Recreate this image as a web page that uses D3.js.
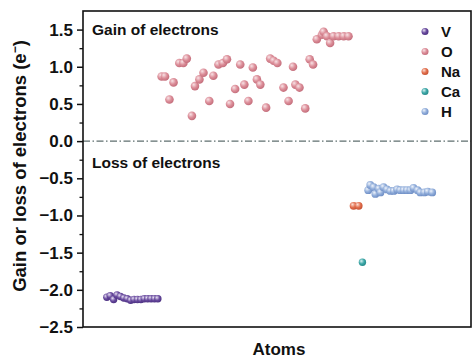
<!DOCTYPE html>
<html>
<head>
<meta charset="utf-8">
<script src="https://cdn.jsdelivr.net/npm/d3@7/dist/d3.min.js"></script>
<style>
  html, body { margin: 0; padding: 0; background: #fff; }
  svg { display: block; }
  text { font-family: "Liberation Sans", Arial, sans-serif; font-weight: bold; fill: #111; }
</style>
</head>
<body>
<svg id="chart" width="473" height="360"></svg>
<script>
// Bader charge per atom: positive = gain of electrons, negative = loss
const vIndex  = [7, 8, 9, 10, 11, 12, 13, 14, 15, 16, 17, 18, 19, 20, 21, 22];
const vCharge = [-2.10, -2.08, -2.13, -2.07, -2.09, -2.11, -2.12, -2.14, -2.13, -2.13, -2.13, -2.12, -2.12, -2.12, -2.12, -2.12];

const oIndex  = [23.1, 24.1, 25.4, 26.6, 28.3, 29.5, 30.5, 32.0, 32.9, 34.2, 35.4, 37.1, 38.3, 39.8, 41.1, 42.3,
                 43.2, 44.7, 46.2, 47.4, 48.6, 49.9, 51.1, 52.1, 53.8, 55.0, 56.0, 57.1, 58.9, 60.4, 61.7, 62.4,
                 63.6, 65.3, 66.6, 67.6, 68.7, 70.2, 70.7, 71.7, 72.6, 73.6, 75.1, 76.6, 78.0];
const oCharge = [0.87, 0.87, 0.56, 0.79, 1.05, 1.05, 1.11, 0.34, 0.74, 0.83, 0.92, 0.54, 0.88, 1.03, 1.05, 1.10,
                 0.50, 0.70, 1.03, 0.76, 0.54, 0.99, 0.83, 0.76, 0.45, 1.11, 1.08, 1.05, 0.72, 0.54, 1.00, 0.76,
                 0.72, 0.44, 1.10, 1.03, 1.37, 1.43, 1.47, 1.41, 1.32, 1.41, 1.41, 1.41, 1.41];

const naIndex  = [79.5, 81.0];
const naCharge = [-0.87, -0.87];

const caIndex  = [82.1];
const caCharge = [-1.63];

const hIndex  = [83.8, 84.4, 85.4, 85.9, 86.9, 87.4, 88.3, 89.3, 90.3, 91.3, 92.3, 93.2, 94.2, 95.2, 96.2, 97.1,
                 98.3, 99.1, 100.3, 101.3, 102.6];
const hCharge = [-0.66, -0.59, -0.62, -0.71, -0.64, -0.69, -0.62, -0.65, -0.67, -0.67, -0.65, -0.66, -0.66, -0.66,
                 -0.66, -0.63, -0.66, -0.69, -0.69, -0.68, -0.69];

const elements = ["V", "O", "Na", "Ca", "H"];
const yTicks = [1.5, 1.0, 0.5, 0.0, -0.5, -1.0, -1.5, -2.0, -2.5];

const series = [
  { name: "V",  idx: vIndex,  q: vCharge,  light: "#e9e2f4", mid: "#6a4c9f", dark: "#4a2f80", r: 3.7 },
  { name: "O",  idx: oIndex,  q: oCharge,  light: "#f8e3e6", mid: "#dc8e99", dark: "#c26b79", r: 4.3 },
  { name: "Na", idx: naIndex, q: naCharge, light: "#fbe0d6", mid: "#e2704f", dark: "#c44f2f", r: 3.9 },
  { name: "Ca", idx: caIndex, q: caCharge, light: "#d9f1f1", mid: "#3ea8a8", dark: "#248888", r: 3.7 },
  { name: "H",  idx: hIndex,  q: hCharge,  light: "#eef3fb", mid: "#93afdb", dark: "#6c8cc4", r: 3.9 }
];

const svg = d3.select("#chart");
const plotL = 83, plotR = 471, plotT = 11, plotB = 327;

const x = d3.scaleLinear().domain([0, 114]).range([plotL, plotR]);
const y = d3.scaleLinear().domain([-2.5, 1.75]).range([plotB, plotT]);

// sphere-like shading for the markers
const defs = svg.append("defs");
series.forEach(s => {
  const g = defs.append("radialGradient")
    .attr("id", "grad-" + s.name)
    .attr("cx", "40%").attr("cy", "38%").attr("r", "65%")
    .attr("fx", "35%").attr("fy", "32%");
  g.append("stop").attr("offset", "0%").attr("stop-color", s.light);
  g.append("stop").attr("offset", "55%").attr("stop-color", s.mid);
  g.append("stop").attr("offset", "100%").attr("stop-color", s.dark);
});

// zero reference line (dash-dot)
svg.append("line")
  .attr("x1", plotL).attr("x2", plotR)
  .attr("y1", y(0)).attr("y2", y(0))
  .attr("stroke", "#5f6f6f").attr("stroke-width", 1.4)
  .attr("stroke-dasharray", "7,2.5,1.5,2.5");

// data points
series.forEach(s => {
  svg.append("g").selectAll("circle")
    .data(s.idx.map((d, i) => ({ a: d, q: s.q[i] })))
    .join("circle")
    .attr("cx", d => x(d.a))
    .attr("cy", d => y(d.q))
    .attr("r", s.r)
    .attr("fill", "url(#grad-" + s.name + ")");
});

// frame
svg.append("rect")
  .attr("x", plotL).attr("y", plotT)
  .attr("width", plotR - plotL).attr("height", plotB - plotT)
  .attr("fill", "none").attr("stroke", "#111").attr("stroke-width", 1.6);

// y axis: major ticks with labels, minor ticks between
const yAxis = d3.axisLeft(y)
  .tickValues(yTicks)
  .tickSize(6)
  .tickPadding(4)
  .tickFormat(d => d3.format(".1f")(d).replace("-", "\u2212"));
const ya = svg.append("g").attr("transform", `translate(${plotL},0)`).call(yAxis);
ya.select(".domain").remove();
ya.selectAll(".tick line").attr("stroke", "#111").attr("stroke-width", 1.5);
ya.selectAll(".tick text").attr("font-size", 17).attr("fill", "#111")
  .style("font-family", "'Liberation Sans', Arial, sans-serif").style("font-weight", "bold");

const minor = d3.axisLeft(y)
  .tickValues(yTicks.slice(0, -1).map(v => v - 0.25))
  .tickSize(3.5).tickFormat("");
const ym = svg.append("g").attr("transform", `translate(${plotL},0)`).call(minor);
ym.select(".domain").remove();
ym.selectAll(".tick line").attr("stroke", "#111").attr("stroke-width", 1.3);

// axis titles
const yTitle = svg.append("text")
  .attr("transform", `translate(26,166) rotate(-90)`)
  .attr("text-anchor", "middle")
  .attr("font-size", 18.5);
yTitle.append("tspan").text("Gain or loss of electrons (e");
yTitle.append("tspan").attr("dy", -7).attr("font-size", 12).text("\u2212");
yTitle.append("tspan").attr("dy", 7).text(")");

svg.append("text")
  .attr("x", (plotL + plotR) / 2 + 2).attr("y", 355)
  .attr("text-anchor", "middle").attr("font-size", 17)
  .text("Atoms");

// region annotations
svg.append("text").attr("x", 92).attr("y", 35).attr("font-size", 15.5).text("Gain of electrons");
svg.append("text").attr("x", 92).attr("y", 168).attr("font-size", 15.5).text("Loss of electrons");

// legend
const legend = svg.append("g");
elements.forEach((name, i) => {
  const row = legend.append("g").attr("transform", `translate(425,${31.5 + i * 20})`);
  row.append("circle").attr("r", 3.5).attr("fill", "url(#grad-" + name + ")");
  row.append("text").attr("x", 16).attr("y", 5.5).attr("font-size", 15).text(name);
});
</script>
</body>
</html>
